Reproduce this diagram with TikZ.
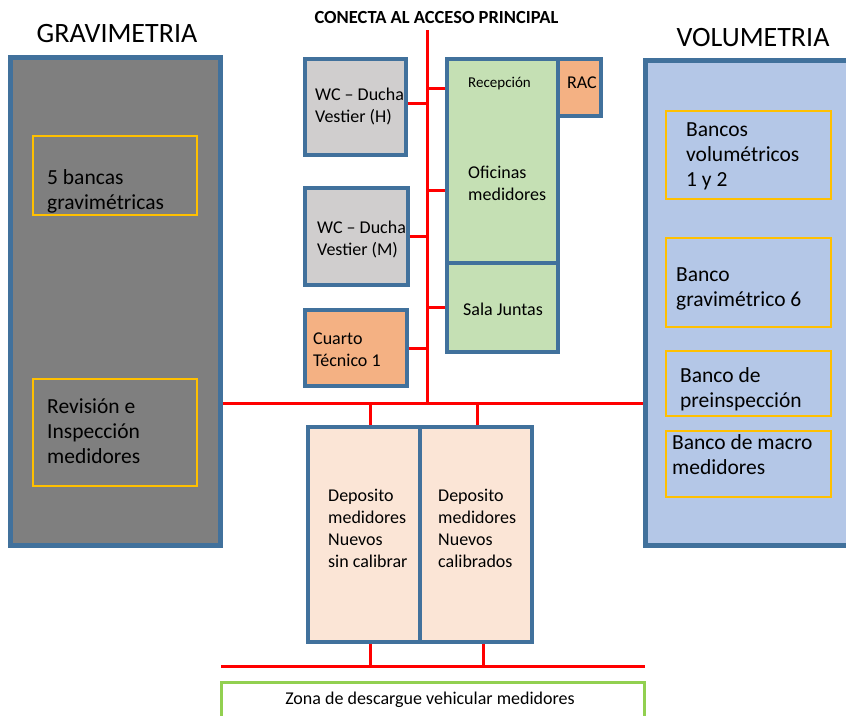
\documentclass[tikz,border=0pt]{standalone}
\usepackage{fontspec}
\setmainfont{Carlito}
\usetikzlibrary{positioning}
\definecolor{frameblue}{HTML}{41719C}
\definecolor{gravgray}{HTML}{7F7F7F}
\definecolor{volblue}{HTML}{B4C7E7}
\definecolor{benchyellow}{HTML}{FFC000}
\definecolor{wcgray}{HTML}{D0CECE}
\definecolor{officegreen}{HTML}{C5E0B4}
\definecolor{techorange}{HTML}{F4B183}
\definecolor{depopeach}{HTML}{FBE5D6}
\definecolor{zonagreen}{HTML}{92D050}
\definecolor{pipered}{HTML}{FF0000}
\tikzset{
  zone/.style={draw=frameblue, line width=5pt, inner sep=0pt},
  bench/.style={draw=benchyellow, line width=2pt, inner sep=0pt},
  room/.style={draw=frameblue, line width=3.5pt, inner sep=0pt},
  pipe/.style={draw=pipered, line width=3pt},
  txt/.style={font=\fontsize{18}{22}\selectfont, align=left, inner sep=0pt},
  benchtxt/.style={txt, font=\fontsize{21.5}{25}\selectfont, anchor=west},
  title/.style={font=\fontsize{28}{32}\selectfont, inner sep=0pt},
}

\begin{document}
\begin{tikzpicture}[x=1pt, y=-1pt]
			%%%%% START %%%%%
			\useasboundingbox (0,0) rectangle (846,715);
			
			\node[title] (gravT) at (117,34) {GRAVIMETRIA};
			\node[title] (volT) at (753,38) {VOLUMETRIA};
			\node[font=\bfseries\fontsize{18.5}{20}\selectfont, inner sep=0pt] (accT) at (436.5,17) {CONECTA AL ACCESO PRINCIPAL};
			
			% big zones
			\node[zone, fill=gravgray, minimum width=210pt, minimum height=488pt] (grav) at (115.5,301.5) {};
			\node[zone, fill=volblue, minimum width=210pt, minimum height=485pt] (vol) at (750.5,303) {};
			
			\node[bench, minimum width=164pt, minimum height=79pt] (g1) at (115,175.5) {};
			\node[bench, minimum width=164pt, minimum height=107pt] (g2) at (115,432.5) {};
			\node[benchtxt] (g1T) at (47,191) {5 bancas\\gravimétricas};
			\node[benchtxt] (g2T) at (47,431) {Revisión e\\Inspección\\medidores};
			
			\node[bench, minimum width=165pt, minimum height=88pt] (v1) at (748.5,155) {};
			\node[bench, minimum width=165pt, minimum height=89pt] (v2) at (748.5,282.5) {};
			\node[bench, minimum width=165pt, minimum height=65pt] (v3) at (748.5,383.5) {};
			\node[bench, minimum width=165pt, minimum height=66pt] (v4) at (748.5,464) {};
			\node[benchtxt] (v1T) at (686,156) {Bancos\\volumétricos\\1 y 2};
			\node[benchtxt] (v2T) at (676,289) {Banco\\gravimétrico 6};
			\node[benchtxt] (v3T) at (680,389) {Banco de\\preinspección};
			\node[benchtxt] (v4T) at (672,455) {Banco de macro\\medidores};
			
			% rooms along the corridor
			\node[room, fill=wcgray, minimum width=101pt, minimum height=96pt] (wch) at (355.5,107) {};
			\node[room, fill=wcgray, minimum width=103pt, minimum height=97pt] (wcm) at (356.5,236.5) {};
			\node[room, fill=techorange, minimum width=102pt, minimum height=76pt] (ct) at (356,348) {};
			\node[txt, anchor=west] (wchT) at (315,106) {WC – Ducha\\Vestier (H)};
			\node[txt, anchor=west] (wcmT) at (317,239) {WC – Ducha\\Vestier (M)};
			\node[txt, anchor=west] (ctT) at (313,350) {Cuarto\\Técnico 1};
			
			\node[room, fill=officegreen, minimum width=111pt, minimum height=204pt] (ofi) at (502.5,161) {};
			\node[room, fill=officegreen, minimum width=111pt, minimum height=89pt] (sala) at (502.5,307.5) {};
			\node[room, fill=techorange, minimum width=43pt, minimum height=57pt] (rac) at (579.5,87.5) {};
			\node[txt, font=\fontsize{15}{17}\selectfont, anchor=west] (recT) at (468,84) {Recepción};
			\node[txt, anchor=west] (ofiT) at (468,183) {Oficinas\\medidores};
			\node[txt] (salaT) at (503,309) {Sala Juntas};
			\node[txt] (racT) at (582,83) {RAC};
			
			% deposits
			\node[room, fill=depopeach, minimum width=112pt, minimum height=215pt] (dep1) at (364,534.5) {};
			\node[room, fill=depopeach, minimum width=112pt, minimum height=215pt] (dep2) at (476,534.5) {};
			\node[txt, anchor=west] (dep1T) at (328,528) {Deposito\\medidores\\Nuevos\\sin calibrar};
			\node[txt, anchor=west] (dep2T) at (438,528) {Deposito\\medidores\\Nuevos\\calibrados};
			
			\node[draw=zonagreen, line width=3pt, fill=white, minimum width=423pt, minimum height=38pt, inner sep=0pt] (zona) at (433,701) {};
			\node[txt] (zonaT) at (430,700) {Zona de descargue vehicular medidores};
			
			% red corridors
			\coordinate (acc) at (427,30);
			\coordinate (hub) at (427,403);
			\coordinate (bl) at (221,666);
			\coordinate (br) at (645,666);
			\draw[pipe] (acc) -- (hub);
			\draw[pipe] (grav.east |- hub) -- (vol.west |- hub);
			\draw[pipe] ([yshift=4pt]wch.east) coordinate (a1) -- (a1 -| acc);
			\draw[pipe] (wcm.east) -- (wcm.east -| acc);
			\draw[pipe] (ct.east) -- (ct.east -| acc);
			\draw[pipe] ([yshift=-31pt]ofi.north west) coordinate (a2) -- (a2 -| acc);
			\draw[pipe] ([yshift=-133pt]ofi.north west) coordinate (a3) -- (a3 -| acc);
			\draw[pipe] (sala.west) -- (sala.west -| acc);
			
			\draw[pipe] ([xshift=6pt]dep1.north) coordinate (d1) -- (d1 |- hub);
			\draw[pipe] ([xshift=1pt]dep2.north) coordinate (d2) -- (d2 |- hub);
			\draw[pipe] (bl) -- (br);
			\draw[pipe] ([xshift=6pt]dep1.south) coordinate (d3) -- (d3 |- bl);
			\draw[pipe] ([xshift=7pt]dep2.south) coordinate (d4) -- (d4 |- bl);
			
			%%%%% END %%%%%
\end{tikzpicture}
\end{document}
